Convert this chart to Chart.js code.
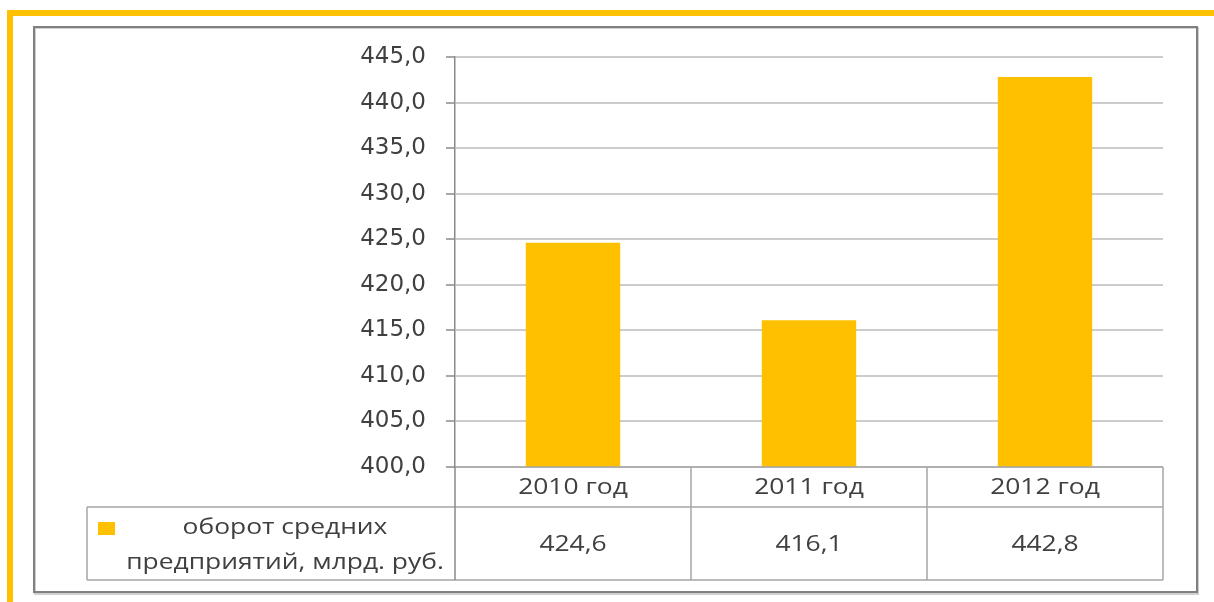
<!DOCTYPE html>
<html>
<head>
<meta charset="utf-8">
<script src="https://cdn.jsdelivr.net/npm/chart.js@4.4.1/dist/chart.umd.min.js"></script>
<style>
  html, body { margin: 0; padding: 0; background: #ffffff; }
  #wrap { position: relative; width: 1214px; height: 602px; }
  canvas { display: block; }
</style>
</head>
<body>
<div id="wrap"><canvas id="c" width="1214" height="602"></canvas></div>
<script>
// ---- data ----
const categories = ['2010 год', '2011 год', '2012 год'];
const values = [424.6, 416.1, 442.8];
const seriesName = 'оборот средних предприятий, млрд. руб.';
const legendLines = ['оборот средних', 'предприятий, млрд. руб.'];
const yMin = 400;
const yMax = 445;
const yStep = 5;

const BAR_COLOR = '#FFC000';
const TEXT_COLOR = '#404040';
const TABLE_LINE = '#a6a6a6';
const fmt = v => v.toFixed(1).replace('.', ',');

// draw text stretched horizontally (reference glyphs are wider than tall)
function wideText(ctx, text, x, y, sx) {
  ctx.save();
  ctx.translate(x, y);
  ctx.scale(sx, 1);
  ctx.fillText(text, 0, 0);
  ctx.restore();
}

const framePlugin = {
  id: 'frame',
  beforeDraw(chart) {
    const ctx = chart.ctx;
    ctx.save();
    ctx.fillStyle = '#ffffff';
    ctx.fillRect(0, 0, chart.width, chart.height);
    // yellow frame
    ctx.fillStyle = BAR_COLOR;
    ctx.fillRect(7, 10, chart.width - 7, 6);
    ctx.fillRect(7, 10, 6, chart.height - 10);
    // gray chart box with faint shadow
    ctx.strokeStyle = '#d0d0d0';
    ctx.lineWidth = 2;
    ctx.strokeRect(35, 28, 1163, 566);
    ctx.strokeStyle = '#808080';
    ctx.lineWidth = 2;
    ctx.strokeRect(34, 27, 1163, 565);
    ctx.restore();
  }
};

const tablePlugin = {
  id: 'dataTable',
  afterDraw(chart) {
    const ctx = chart.ctx;
    const x = chart.scales.x;
    const area = chart.chartArea;
    const n = categories.length;
    const colW = (area.right - area.left) / n;
    const top = area.bottom;
    const mid = 507;
    const bot = 580;
    const legLeft = 87;
    ctx.save();
    ctx.strokeStyle = TABLE_LINE;
    ctx.lineWidth = 1.5;
    ctx.beginPath();
    ctx.moveTo(area.left, top); ctx.lineTo(area.right, top);
    ctx.moveTo(legLeft, mid); ctx.lineTo(area.right, mid);
    ctx.moveTo(legLeft, bot); ctx.lineTo(area.right, bot);
    ctx.moveTo(legLeft, mid); ctx.lineTo(legLeft, bot);
    for (let i = 1; i <= n; i++) {
      const cx = x.getPixelForValue(i - 1) + colW / 2;
      ctx.moveTo(cx, top); ctx.lineTo(cx, bot);
    }
    ctx.stroke();
    ctx.strokeStyle = '#8a8a8a';
    ctx.beginPath();
    ctx.moveTo(area.left, top); ctx.lineTo(area.left, bot);
    ctx.stroke();

    ctx.fillStyle = TEXT_COLOR;
    ctx.font = '22px "Open Sans"';
    ctx.textAlign = 'center';
    ctx.textBaseline = 'middle';
    for (let i = 0; i < n; i++) {
      const cx = x.getPixelForValue(i);
      wideText(ctx, categories[i], cx, 488, 1.2);
      wideText(ctx, fmt(values[i]), cx, 545, 1.2);
    }
    ctx.fillStyle = BAR_COLOR;
    ctx.fillRect(98, 522, 17, 13);
    ctx.fillStyle = TEXT_COLOR;
    wideText(ctx, legendLines[0], 285, 528, 1.2);
    wideText(ctx, legendLines[1], 285, 563, 1.2);
    ctx.restore();
  }
};

new Chart(document.getElementById('c'), {
  type: 'bar',
  data: {
    labels: categories,
    datasets: [{
      label: seriesName,
      data: values,
      backgroundColor: BAR_COLOR,
      borderWidth: 0,
      categoryPercentage: 1.0,
      barPercentage: 0.4
    }]
  },
  options: {
    responsive: false,
    animation: false,
    devicePixelRatio: 1,
    layout: { padding: { left: 34, top: 57, right: 51, bottom: 135 } },
    plugins: { legend: { display: false }, tooltip: { enabled: false } },
    scales: {
      x: { display: false },
      y: {
        min: yMin,
        max: yMax,
        afterFit(scale) { scale.width = 421; },
        ticks: {
          stepSize: yStep,
          padding: 20,
          color: TEXT_COLOR,
          font: { family: '"DejaVu Sans"', size: 23 },
          callback: v => fmt(v)
        },
        grid: {
          color: '#cccccc',
          lineWidth: 2,
          drawTicks: true,
          tickLength: 9,
          tickColor: '#8a8a8a',
          tickWidth: 1.5
        },
        border: { display: true, color: '#8a8a8a', width: 1.5 }
      }
    }
  },
  plugins: [framePlugin, tablePlugin]
});
</script>
</body>
</html>
